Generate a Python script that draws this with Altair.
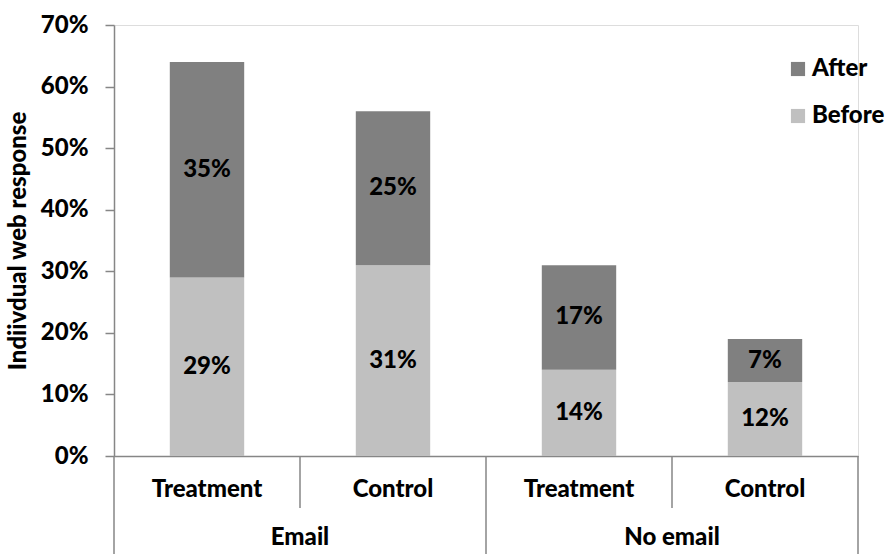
import altair as alt
import pandas as pd

groups = ["Email", "Email", "No email", "No email"]
arms = ["Treatment", "Control", "Treatment", "Control"]
before = [0.29, 0.31, 0.14, 0.12]
after = [0.35, 0.25, 0.17, 0.07]
series = ["After", "Before"]
colors = ["#808080", "#c0c0c0"]
group_names = ["Email", "No email"]

FONT = "Lato"
FS = 24
FW = 900

rows = []
for i, (g, a) in enumerate(zip(groups, arms)):
    rows.append({"idx": i, "group": g, "arm": a, "series": "Before", "ord": 0, "value": before[i]})
    rows.append({"idx": i, "group": g, "arm": a, "series": "After", "ord": 1, "value": after[i]})
df = pd.DataFrame(rows)
df["xc"] = df["idx"] + 0.5
df["xl"] = df["idx"] + 0.3
df["xr"] = df["idx"] + 0.7

cats = pd.DataFrame({"arm": arms, "xc": [i + 0.5 for i in range(len(arms))]})
grp = pd.DataFrame({"group": group_names,
                    "xc": [sum(i + 0.5 for i, g in enumerate(groups) if g == n) / groups.count(n) for n in group_names]})
outer = pd.DataFrame({"xb": [0, 2, 4]})
inner = pd.DataFrame({"xb": [1, 3]})

W, H = 744, 431
xscale = alt.Scale(domain=[0, 4], nice=False, zero=False)
yscale = alt.Scale(domain=[0, 0.7], nice=False)

base = alt.Chart(df).transform_stack(
    stack="value", groupby=["idx"], sort=[alt.SortField("ord", "ascending")], as_=["y0", "y1"]
).transform_calculate(mid="(datum.y0 + datum.y1) / 2")

bars = base.mark_bar().encode(
    x=alt.X("xl:Q", scale=xscale, axis=alt.Axis(labels=False, ticks=False, grid=False, title=None,
                                                 domainColor="#868686", domainWidth=1.5)),
    x2="xr:Q",
    y=alt.Y("y0:Q", scale=yscale, axis=alt.Axis(
        title="Indiivdual web response", format=".0%", values=[0, 0.1, 0.2, 0.3, 0.4, 0.5, 0.6, 0.7],
        grid=False, domainColor="#868686", tickColor="#868686", tickSize=9, domainWidth=1.5, tickWidth=1.5,
        labelFont=FONT, labelFontSize=FS, labelFontWeight=FW, labelColor="black", labelPadding=17,
        titleFont=FONT, titleFontSize=FS, titleFontWeight=FW, titleColor="black", titlePadding=10)),
    y2="y1:Q",
    color=alt.Color("series:N", scale=alt.Scale(domain=series, range=colors),
                    legend=alt.Legend(title=None, orient="none", legendX=672, legendY=32,
                                      symbolType="square", symbolSize=200, symbolStrokeWidth=0,
                                      labelFont=FONT, labelFontSize=FS, labelFontWeight=FW,
                                      labelColor="black", rowPadding=23, labelOffset=2)),
)

labels = base.mark_text(font=FONT, fontSize=FS, fontWeight=FW, color="black").encode(
    x=alt.X("xc:Q", scale=xscale),
    y=alt.Y("mid:Q", scale=yscale),
    text=alt.Text("value:Q", format=".0%"),
)

cat_text = alt.Chart(cats).mark_text(font=FONT, fontSize=FS, fontWeight=FW, color="black",
                                     baseline="middle").encode(
    x=alt.X("xc:Q", scale=xscale), y=alt.value(H + 34), text="arm:N")

grp_text = alt.Chart(grp).mark_text(font=FONT, fontSize=FS, fontWeight=FW, color="black",
                                    baseline="middle").encode(
    x=alt.X("xc:Q", scale=xscale), y=alt.value(H + 82), text="group:N")

outer_rules = alt.Chart(outer).mark_rule(color="#868686", strokeWidth=1.5).encode(
    x=alt.X("xb:Q", scale=xscale), y=alt.value(H), y2=alt.value(H + 100))
inner_rules = alt.Chart(inner).mark_rule(color="#868686", strokeWidth=1.5).encode(
    x=alt.X("xb:Q", scale=xscale), y=alt.value(H), y2=alt.value(H + 52))

chart = alt.layer(bars, labels, cat_text, grp_text, outer_rules, inner_rules).properties(
    width=W, height=H,
    padding={"left": 114, "top": 25, "right": 30, "bottom": 98},
    autosize=alt.AutoSizeParams(type="none"),
).configure_view(stroke=None).configure(background="white")

chart.save("out.html", embed_options={"renderer": "svg", "actions": False})
